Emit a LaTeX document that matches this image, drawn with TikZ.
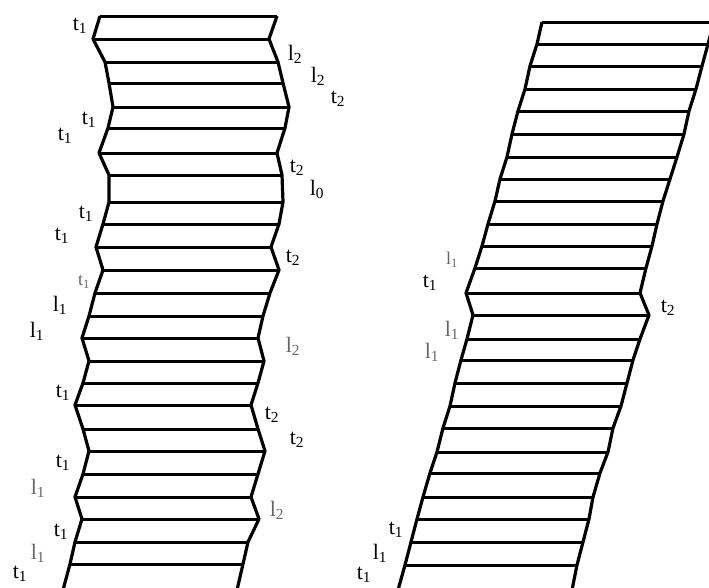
\documentclass[tikz,border=0pt]{standalone}
\usepackage{fontspec}
\setmainfont{Liberation Serif}
\begin{document}
\begin{tikzpicture}[x=1pt,y=-1pt,
  edge/.style={line width=3.2pt, line join=round},
  rung/.style={line width=3pt},
  lab/.style={font=\fontsize{22}{22}\selectfont, inner sep=0pt},
  small/.style={font=\fontsize{18}{18}\selectfont},
  faint/.style={lab, text=black!60}]
\useasboundingbox (0,0) rectangle (709,587);
\clip (0,0) rectangle (709,587);
% ---------- left figure ----------
\def\leftrows{16/100/277, 39/93/269, 62/105/278, 83/109/283, 107/113/289, 128/108/285, 153/99/277, 175/109/282, 202/109/283, 224/103/279, 247/96/271, 270/103/279, 293/95/270, 316/89/263, 338/82/258, 361/89/264, 383/83/258, 405/75/251, 429/83/258, 451/89/265, 474/83/258, 497/75/251, 519/82/259, 542/75/248, 564/70/243}
\foreach \y/\a/\b in \leftrows { \draw[rung] (\a,\y) -- (\b,\y); }
\draw[edge] (100,16) foreach \y/\a/\b in \leftrows { -- (\a,\y) } -- (63,590);
\draw[edge] (277,16) foreach \y/\a/\b in \leftrows { -- (\b,\y) } -- (237,590);
% ---------- right figure ----------
\def\rightrows{22/542/714, 44/537/708, 66/530/702, 89/525/696, 111/518/689, 134/512/684, 157/507/677, 179/500/670, 201/495/663, 224/488/657, 246/482/652, 268/475/646, 293/466/640, 315/473/649, 339/467/640, 360/461/633, 383/455/627, 406/450/621, 428/443/613, 452/437/608, 473/430/600, 497/423/593, 519/417/589, 542/411/583, 565/405/577}
\foreach \y/\a/\b in \rightrows { \draw[rung] (\a,\y) -- (\b,\y); }
\draw[edge] (542,22) foreach \y/\a/\b in \rightrows { -- (\a,\y) } -- (398,590);
\draw[edge] (714,22) foreach \y/\a/\b in \rightrows { -- (\b,\y) } -- (572,590);
% ---------- labels, left figure, left side ----------
\node[lab] (la1) at (80,26) {t\textsubscript{1}};
\node[lab] (la2) at (89,120) {t\textsubscript{1}};
\node[lab] (la3) at (65,136) {t\textsubscript{1}};
\node[lab] (la4) at (86,214) {t\textsubscript{1}};
\node[lab] (la5) at (62,236) {t\textsubscript{1}};
\node[faint, small] (la6) at (84,282) {t\textsubscript{1}};
\node[lab] (la7) at (60,305) {l\textsubscript{1}};
\node[lab] (la8) at (37,331) {l\textsubscript{1}};
\node[lab] (la9) at (63,393) {t\textsubscript{1}};
\node[lab] (la10) at (63,463) {t\textsubscript{1}};
\node[faint] (la11) at (38,488) {l\textsubscript{1}};
\node[lab] (la12) at (61,532) {t\textsubscript{1}};
\node[faint] (la13) at (38,553) {l\textsubscript{1}};
\node[lab] (la14) at (20,574) {t\textsubscript{1}};
% ---------- labels, left figure, right side ----------
\node[lab] (lb1) at (295,54) {l\textsubscript{2}};
\node[lab] (lb2) at (318,76) {l\textsubscript{2}};
\node[lab] (lb3) at (338,99) {t\textsubscript{2}};
\node[lab] (lb4) at (297,168) {t\textsubscript{2}};
\node[lab] (lb5) at (317,189) {l\textsubscript{0}};
\node[lab] (lb6) at (293,258) {t\textsubscript{2}};
\node[faint] (lb7) at (293,346) {l\textsubscript{2}};
\node[lab] (lb8) at (272,415) {t\textsubscript{2}};
\node[lab] (lb9) at (297,440) {t\textsubscript{2}};
\node[faint] (lb10) at (277,510) {l\textsubscript{2}};
% ---------- labels, right figure ----------
\node[faint, small] (ra1) at (452,260) {l\textsubscript{1}};
\node[lab] (ra2) at (430,283) {t\textsubscript{1}};
\node[lab] (ra3) at (668,308) {t\textsubscript{2}};
\node[faint] (ra4) at (452,330) {l\textsubscript{1}};
\node[faint] (ra5) at (432,352) {l\textsubscript{1}};
\node[lab] (ra6) at (396,530) {t\textsubscript{1}};
\node[lab] (ra7) at (380,553) {l\textsubscript{1}};
\node[lab] (ra8) at (364,575) {t\textsubscript{1}};
\end{tikzpicture}
\end{document}
